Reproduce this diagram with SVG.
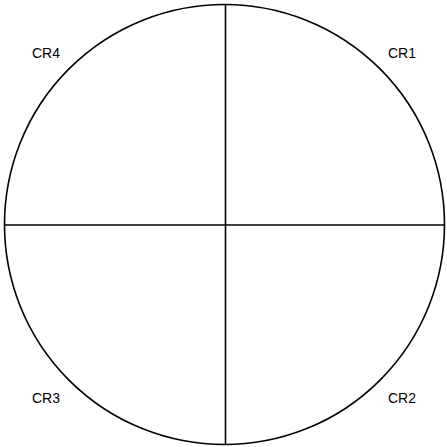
<svg xmlns="http://www.w3.org/2000/svg" width="447" height="447" viewBox="0 0 447 447">
<style>
.l{stroke:#000;stroke-width:1.6;fill:none}
text{font-family:"Liberation Sans",Arial,sans-serif;font-size:14px;fill:#000}
</style>
<rect width="447" height="447" fill="#fff"/>
<g id="circle"><circle class="l" cx="224.5" cy="224.5" r="220"/></g>
<g id="connectors">
<line class="l" x1="225.5" y1="4.5" x2="225.5" y2="444.5"/>
<line class="l" x1="4.5" y1="225" x2="444.5" y2="225"/>
</g>
<g id="CR1"><text x="388" y="58">CR1</text></g>
<g id="CR2"><text x="388" y="403">CR2</text></g>
<g id="CR3"><text x="32" y="403">CR3</text></g>
<g id="CR4"><text x="32" y="58">CR4</text></g>
</svg>
